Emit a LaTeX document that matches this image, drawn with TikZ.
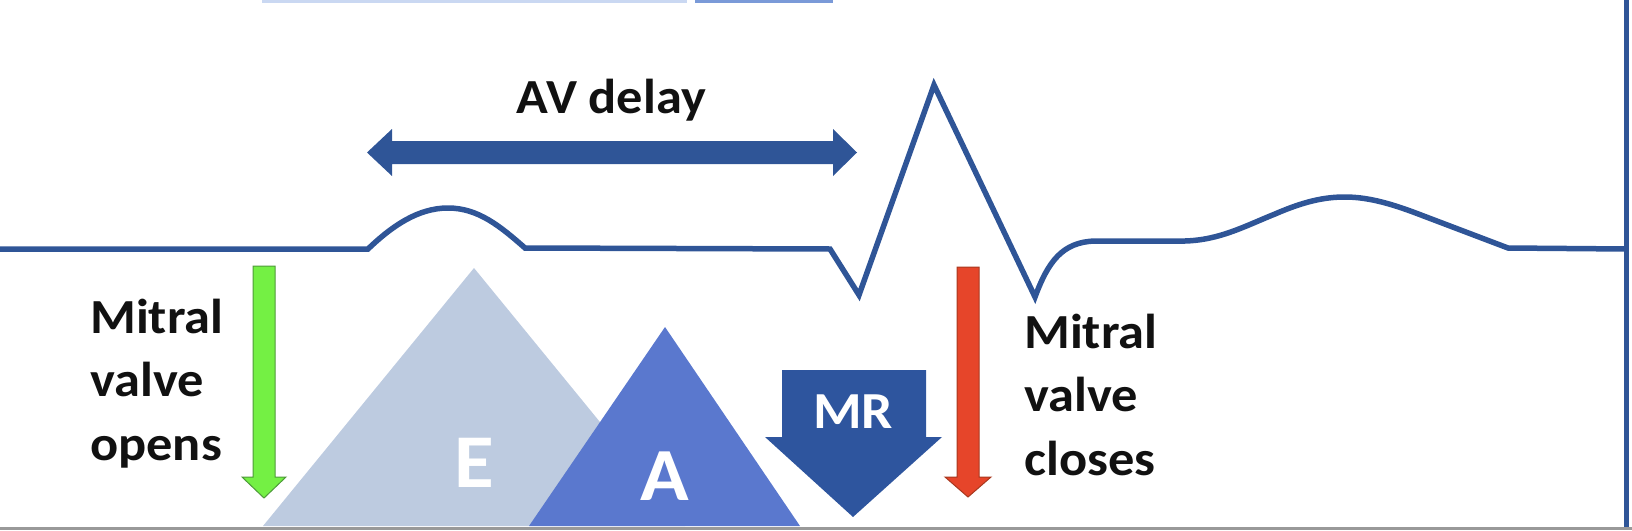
\documentclass[tikz,border=0pt]{standalone}
\usepackage{fontspec}
\setmainfont{Carlito}
\newfontfamily\labfont[FakeStretch=1.07]{Carlito}
\definecolor{ecgblue}{HTML}{2F5597}
\definecolor{mrblue}{HTML}{2E559E}
\definecolor{acol}{HTML}{5A78CE}
\definecolor{ecol}{HTML}{BDCBE0}
\definecolor{mvgreen}{HTML}{74F044}
\definecolor{mvgreenD}{HTML}{4E9A3A}
\definecolor{mvred}{HTML}{E6452A}
\definecolor{mvredD}{HTML}{A8381F}
\definecolor{topA}{HTML}{CAD8F2}
\definecolor{topB}{HTML}{7A9AD8}
\definecolor{txt}{HTML}{111111}
\begin{document}
\begin{tikzpicture}[x=1pt,y=-1pt,
  ecg/.style={draw=ecgblue, line width=5.5pt},
  lbl/.style={inner sep=0pt, text=txt, font=\labfont\bfseries\fontsize{49}{63.5}\selectfont},
  wlbl/.style={inner sep=0pt, text=white, anchor=base}]
\useasboundingbox (0,0) rectangle (1632,530);
% top edge fragments
\fill[topA] (262,0) rectangle (687,2.5);
\fill[topB] (695,0) rectangle (833,2.5);
% E and A triangles
\fill[ecol] (474,268) -- (685,526) -- (263,526) -- cycle;
\fill[acol] (665,327) -- (800,526) -- (529,526) -- cycle;
% ECG trace
\draw[ecg] (0,249) -- (368,249)
  .. controls (392,226) and (418,208) .. (448,208)
  .. controls (478,208) and (500,226) .. (525,248)
  -- (830,249) -- (859,295) -- (934,85) -- (1035,297)
  .. controls (1048,262) and (1062,242) .. (1095,241)
  -- (1185,241)
  .. controls (1220,240) and (1245,226) .. (1275,214)
  .. controls (1305,201) and (1325,197) .. (1345,197)
  .. controls (1370,197) and (1395,205) .. (1421,215)
  -- (1508,248) -- (1626,249);
% right frame line
\draw[ecgblue, line width=5pt] (1626,0) -- (1626,530);
% AV delay double arrow
\fill[ecgblue] (367,152.5) -- (392,129) -- (392,141) -- (833,141) -- (833,129)
  -- (857,152.5) -- (833,176) -- (833,164) -- (392,164) -- (392,176) -- cycle;
% green arrow
\filldraw[fill=mvgreen, draw=mvgreenD, line width=1pt]
  (253,266) -- (275,266) -- (275,477) -- (286,477) -- (264,498) -- (242,477) -- (253,477) -- cycle;
% red arrow
\filldraw[fill=mvred, draw=mvredD, line width=1pt]
  (957,267) -- (979,267) -- (979,477) -- (991,477) -- (968,497) -- (945,477) -- (957,477) -- cycle;
% MR arrow
\fill[mrblue] (782,370) -- (926,370) -- (926,437) -- (942,437) -- (853,517) -- (765,437) -- (782,437) -- cycle;
% labels
\node[lbl, anchor=base] (av) at (611.5,113) {AV delay};
\node[lbl, anchor=base west, align=left] (mvo) at (90,460) {Mitral\\valve\\opens};
\node[lbl, anchor=base west, align=left] (mvc) at (1024,475) {Mitral\\valve\\closes};
\node[wlbl, font=\labfont\bfseries\fontsize{76}{76}\selectfont] (E) at (474,487) {E};
\node[wlbl, font=\labfont\bfseries\fontsize{75}{75}\selectfont] (A) at (665,500) {A};
\node[wlbl, font=\labfont\bfseries\fontsize{52}{52}\selectfont] (MR) at (853,428) {MR};
% bottom border
\fill[black!40] (0,527) rectangle (1632,530);
\end{tikzpicture}
\end{document}
